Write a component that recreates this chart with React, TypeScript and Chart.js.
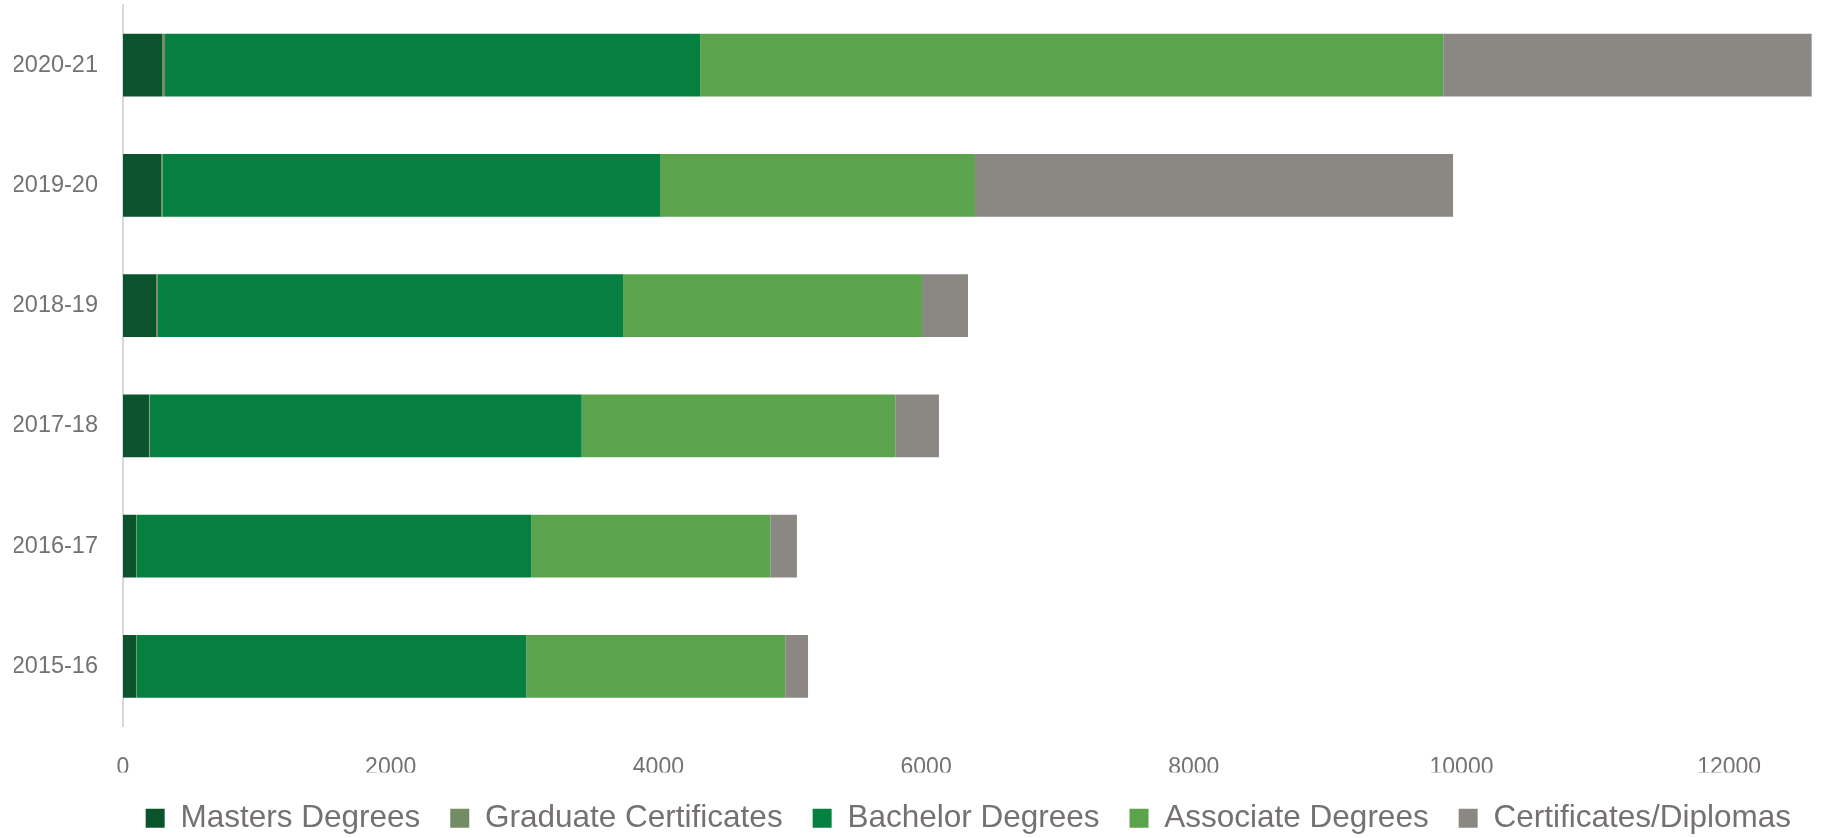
import React, { useEffect, useRef } from "react";
import { Chart, registerables } from "chart.js";

Chart.register(...registerables);

const categories = ["2020-21", "2019-20", "2018-19", "2017-18", "2016-17", "2015-16"];

const mastersDegrees = [292, 286, 249, 194, 97, 97];
const graduateCertificates = [22, 8, 12, 5, 3, 3];
const bachelorDegrees = [3998, 3718, 3475, 3228, 2950, 2913];
const associateDegrees = [5552, 2353, 2233, 2343, 1786, 1935];
const certificatesDiplomas = [2752, 3572, 344, 326, 199, 170];

const seriesNames = [
  "Masters Degrees",
  "Graduate Certificates",
  "Bachelor Degrees",
  "Associate Degrees",
  "Certificates/Diplomas",
];
const seriesColors = ["#0A532C", "#738C64", "#068040", "#5BA34C", "#8B8883"];

const xTickValues = [0, 2000, 4000, 6000, 8000, 10000, 12000];
const xMin = 0;
const xMax = 12686;

const FONT = "'Liberation Sans', Arial, sans-serif";
const TEXT = "#767171";

export default function App() {
  const ref = useRef<HTMLCanvasElement | null>(null);

  useEffect(() => {
    if (!ref.current) return;
    const values = [
      mastersDegrees,
      graduateCertificates,
      bachelorDegrees,
      associateDegrees,
      certificatesDiplomas,
    ];
    const chart = new Chart(ref.current, {
      type: "bar",
      data: {
        labels: categories,
        datasets: values.map((v, i) => ({
          label: seriesNames[i],
          data: v,
          backgroundColor: seriesColors[i],
          borderWidth: 0,
          barPercentage: 0.52,
          categoryPercentage: 1,
        })),
      },
      options: {
        indexAxis: "y",
        animation: false,
        responsive: true,
        maintainAspectRatio: false,
        layout: { padding: { left: 14, top: 5, right: 0, bottom: -6 } },
        plugins: {
          tooltip: { enabled: false },
          legend: {
            position: "bottom",
            align: "end",
            labels: {
              boxWidth: 19,
              boxHeight: 19,
              padding: 30,
              color: TEXT,
              font: { family: FONT, size: 31.5 },
            },
          },
        },
        scales: {
          x: {
            stacked: true,
            min: xMin,
            max: xMax,
            grid: { display: false, drawTicks: false },
            border: { display: false },
            afterBuildTicks: (scale: any) => {
              scale.ticks = xTickValues.map((v) => ({ value: v }));
            },
            afterFit: (scale: any) => {
              scale.paddingLeft = 0;
              scale.paddingRight = 0;
              scale.height = 46;
            },
            ticks: {
              padding: 27,
              color: TEXT,
              font: { family: FONT, size: 23 },
              maxRotation: 0,
              autoSkip: false,
              callback: (v: any) => String(v),
            },
          },
          y: {
            stacked: true,
            grid: { display: false, drawTicks: false },
            border: { display: true, color: "#D9D9D9", width: 2 },
            afterFit: (scale: any) => {
              scale.paddingTop = 0;
              scale.paddingBottom = 0;
              scale.width = 109;
            },
            ticks: {
              padding: 25,
              color: TEXT,
              font: { family: FONT, size: 23.5 },
            },
          },
        },
      },
    });
    return () => chart.destroy();
  }, []);

  return (
    <div style={{ position: "fixed", left: 0, top: 0, width: 1821, height: 838, background: "#fff" }}>
      <canvas ref={ref} />
    </div>
  );
}
